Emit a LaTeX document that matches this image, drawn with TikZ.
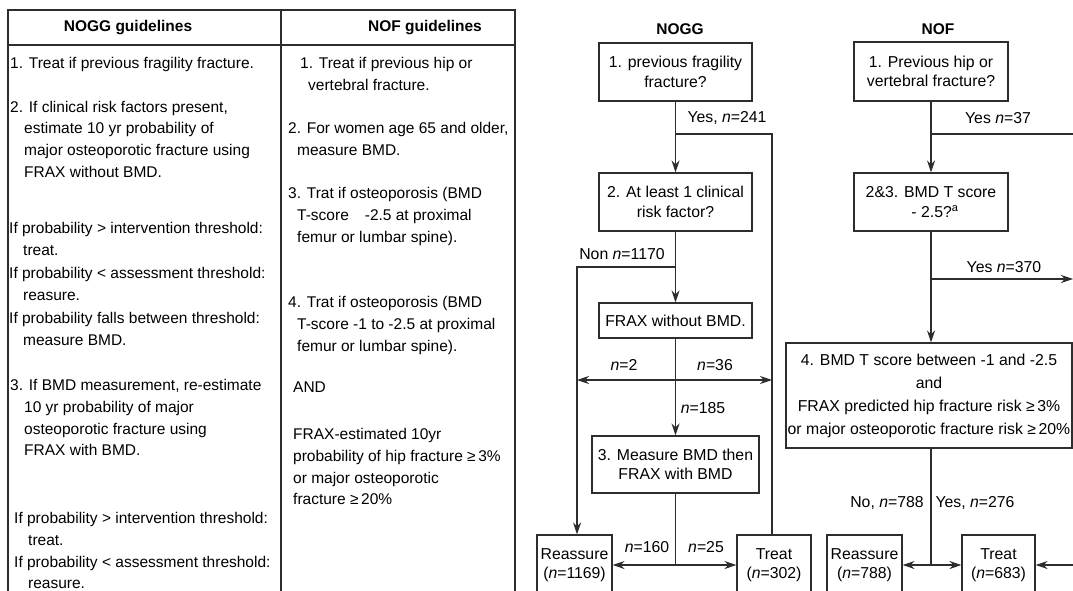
\documentclass[tikz,border=0pt]{standalone}
\usepackage{fontspec}
\setmainfont{Liberation Sans}
\usetikzlibrary{arrows.meta,positioning}
\definecolor{inkgray}{RGB}{45,45,45}
\newcommand{\hind}{\hspace*{14pt}}

\begin{document}
\begin{tikzpicture}[
    x=1pt, y=-1pt,
    >={Stealth[length=12pt, width=8pt]},
    flowbox/.style={rectangle, draw=inkgray, line width=1.1pt, align=center,
                inner sep=2pt, font=\fontsize{15.8}{19.5}\selectfont},
    link/.style={draw=inkgray, line width=1.1pt},
    lbl/.style={inner sep=0pt, font=\fontsize{15.8}{18}\selectfont},
    cell/.style={anchor=north west, align=left, inner sep=0pt,
                font=\fontsize{15.5}{21.8}\selectfont},
    head/.style={inner sep=0pt, font=\fontsize{15.5}{18}\selectfont\bfseries},
]
    \useasboundingbox (0,0) rectangle (1073,591);
    \clip (0,0) rectangle (1073,591);

    % Guidelines table
    \draw[link] (8,600) -- (8,10) -- (515,10) -- (515,600);
    \draw[link] (281,10) -- (281,600);
    \draw[link] (8,45) -- (515,45);
    \node[head] (hnogg) at (128,28) {NOGG guidelines};
    \node[head] (hnof) at (425,28) {NOF guidelines};

    % NOGG column
    \node[cell] (g1) at (10,57) {1. Treat if previous fragility fracture.};
    \node[cell] (g2) at (10,100.6) {2. If clinical risk factors present,\\\hind estimate 10 yr probability of\\\hind major osteoporotic fracture using\\\hind FRAX without BMD.};
    \node[cell, font=\fontsize{15.5}{22.4}\selectfont] (g3) at (9,222) {If probability > intervention threshold:\\\hind treat.\\If probability < assessment threshold:\\\hind reasure.\\If probability falls between threshold:\\\hind measure BMD.};
    \node[cell] (g4) at (10,379) {3. If BMD measurement, re-estimate\\\hind 10 yr probability of major\\\hind osteoporotic fracture using\\\hind FRAX with BMD.};
    \node[cell] (g5) at (14,512) {If probability > intervention threshold:\\\hind treat.\\If probability < assessment threshold:\\\hind reasure.};

    % NOF column
    \node[cell] (o1) at (300,57) {1. Treat if previous hip or\\\hspace*{8pt}vertebral fracture.};
    \node[cell] (o2) at (288,122) {2. For women age 65 and older,\\\hspace*{9pt}measure BMD.};
    \node[cell] (o3) at (288,187) {3. Trat if osteoporosis (BMD\\\hspace*{9pt}T-score\hspace{16pt}-2.5 at proximal\\\hspace*{9pt}femur or lumbar spine).};
    \node[cell] (o4) at (288,296) {4. Trat if osteoporosis (BMD\\\hspace*{9pt}T-score -1 to -2.5 at proximal\\\hspace*{9pt}femur or lumbar spine).};
    \node[cell] (o5) at (293,382) {AND};
    \node[cell] (o6) at (293,428) {FRAX-estimated 10yr\\probability of hip fracture ≥\,3\%\\or major osteoporotic\\fracture ≥\,20\%};

    % NOGG flowchart
    \node[head] (tnogg) at (680,29) {NOGG};
    \node[flowbox, minimum width=153pt, minimum height=58pt] (q1) at (675.5,72) {1. previous fragility\\fracture?};
    \node[flowbox, minimum width=153pt, minimum height=58pt] (q2) at (675.5,202) {2. At least 1 clinical\\risk factor?};
    \node[flowbox, minimum width=153pt, minimum height=35pt] (qfrax) at (675.5,320.5) {FRAX without BMD.};
    \node[flowbox, minimum width=167pt, minimum height=57pt] (q3) at (675.5,464.5) {3. Measure BMD then\\FRAX with BMD};
    \node[flowbox, minimum width=75pt, minimum height=60pt] (qre) at (574.5,565) {Reassure\\(\textit{n}=1169)};
    \node[flowbox, minimum width=74pt, minimum height=60pt] (qtr) at (774,565) {Treat\\(\textit{n}=302)};

    \coordinate (qs1) at (675.5,134);
    \coordinate (qr1) at (772,134);
    \coordinate (qs2) at (675.5,267);
    \coordinate (ql1) at (577,267);
    \coordinate (ql2) at (577,380);
    \coordinate (qr2) at (772,380);
    \coordinate (qj) at (675.5,565);

    \draw[link, ->] (q1) -- (q2);
    \draw[link] (qs1) -- (qr1) -- (qr1 |- qtr.north);
    \draw[link, ->] (q2) -- (qfrax);
    \draw[link, ->] (qs2) -- (ql1) -- (ql1 |- qre.north);
    \draw[link, ->] (qfrax) -- (q3);
    \draw[link, <->] (ql2) -- (qr2);
    \draw[link] (q3) -- (qj);
    \draw[link, ->] (qj) -- (qre);
    \draw[link, ->] (qj) -- (qtr);

    \node[lbl] (l241) at (727,118) {Yes, \textit{n}=241};
    \node[lbl] (l1170) at (622,254) {Non \textit{n}=1170};
    \node[lbl] (l2) at (624,365) {\textit{n}=2};
    \node[lbl] (l36) at (715,365) {\textit{n}=36};
    \node[lbl] (l185) at (703,408) {\textit{n}=185};
    \node[lbl] (l160) at (647,547) {\textit{n}=160};
    \node[lbl] (l25) at (706,547) {\textit{n}=25};

    % NOF flowchart
    \node[head] (tnof) at (938,29) {NOF};
    \node[flowbox, minimum width=154pt, minimum height=59pt] (f1) at (931,71.5) {1. Previous hip or\\vertebral fracture?};
    \node[flowbox, minimum width=154pt, minimum height=58pt] (f2) at (931,202) {2\&3. BMD T score\\\hspace*{8pt}- 2.5?\textsuperscript{a}};
    \node[flowbox, minimum width=286pt, minimum height=105pt, inner xsep=1pt,
          font=\fontsize{15.8}{23}\selectfont] (f4) at (929,395.5)
        {4. BMD T score between -1 and -2.5\\and\\FRAX predicted hip fracture risk ≥\,3\%\\or major osteoporotic fracture risk ≥\,20\%};
    \node[flowbox, minimum width=75pt, minimum height=60pt] (fre) at (864.5,565) {Reassure\\(\textit{n}=788)};
    \node[flowbox, minimum width=73pt, minimum height=60pt] (ftr) at (998.5,565) {Treat\\(\textit{n}=683)};

    \coordinate (fs1) at (931,134);
    \coordinate (fr1) at (1084,134);
    \coordinate (fs2) at (931,279);
    \coordinate (fr2) at (1073,279);
    \coordinate (fr3) at (1084,565);
    \coordinate (fj) at (931,565);

    \draw[link, ->] (f1) -- (f2);
    \draw[link, ->] (f2.south) -- (f2.south |- f4.north);
    \draw[link] (fs1) -- (fr1) -- (fr3); % rail past the cut edge
    \draw[link, ->] (fs2) -- (fr2);
    \draw[link, ->] (fr3) -- (ftr);
    \draw[link] (fj |- f4.south) -- (fj);
    \draw[link, ->] (fj) -- (fre);
    \draw[link, ->] (fj) -- (ftr);

    \node[lbl] (l37) at (998,118) {Yes \textit{n}=37};
    \node[lbl] (l370) at (1004,267) {Yes \textit{n}=370};
    \node[lbl] (l788) at (887,503) {No, \textit{n}=788};
    \node[lbl] (l276) at (975,503) {Yes, \textit{n}=276};
\end{tikzpicture}
\end{document}
